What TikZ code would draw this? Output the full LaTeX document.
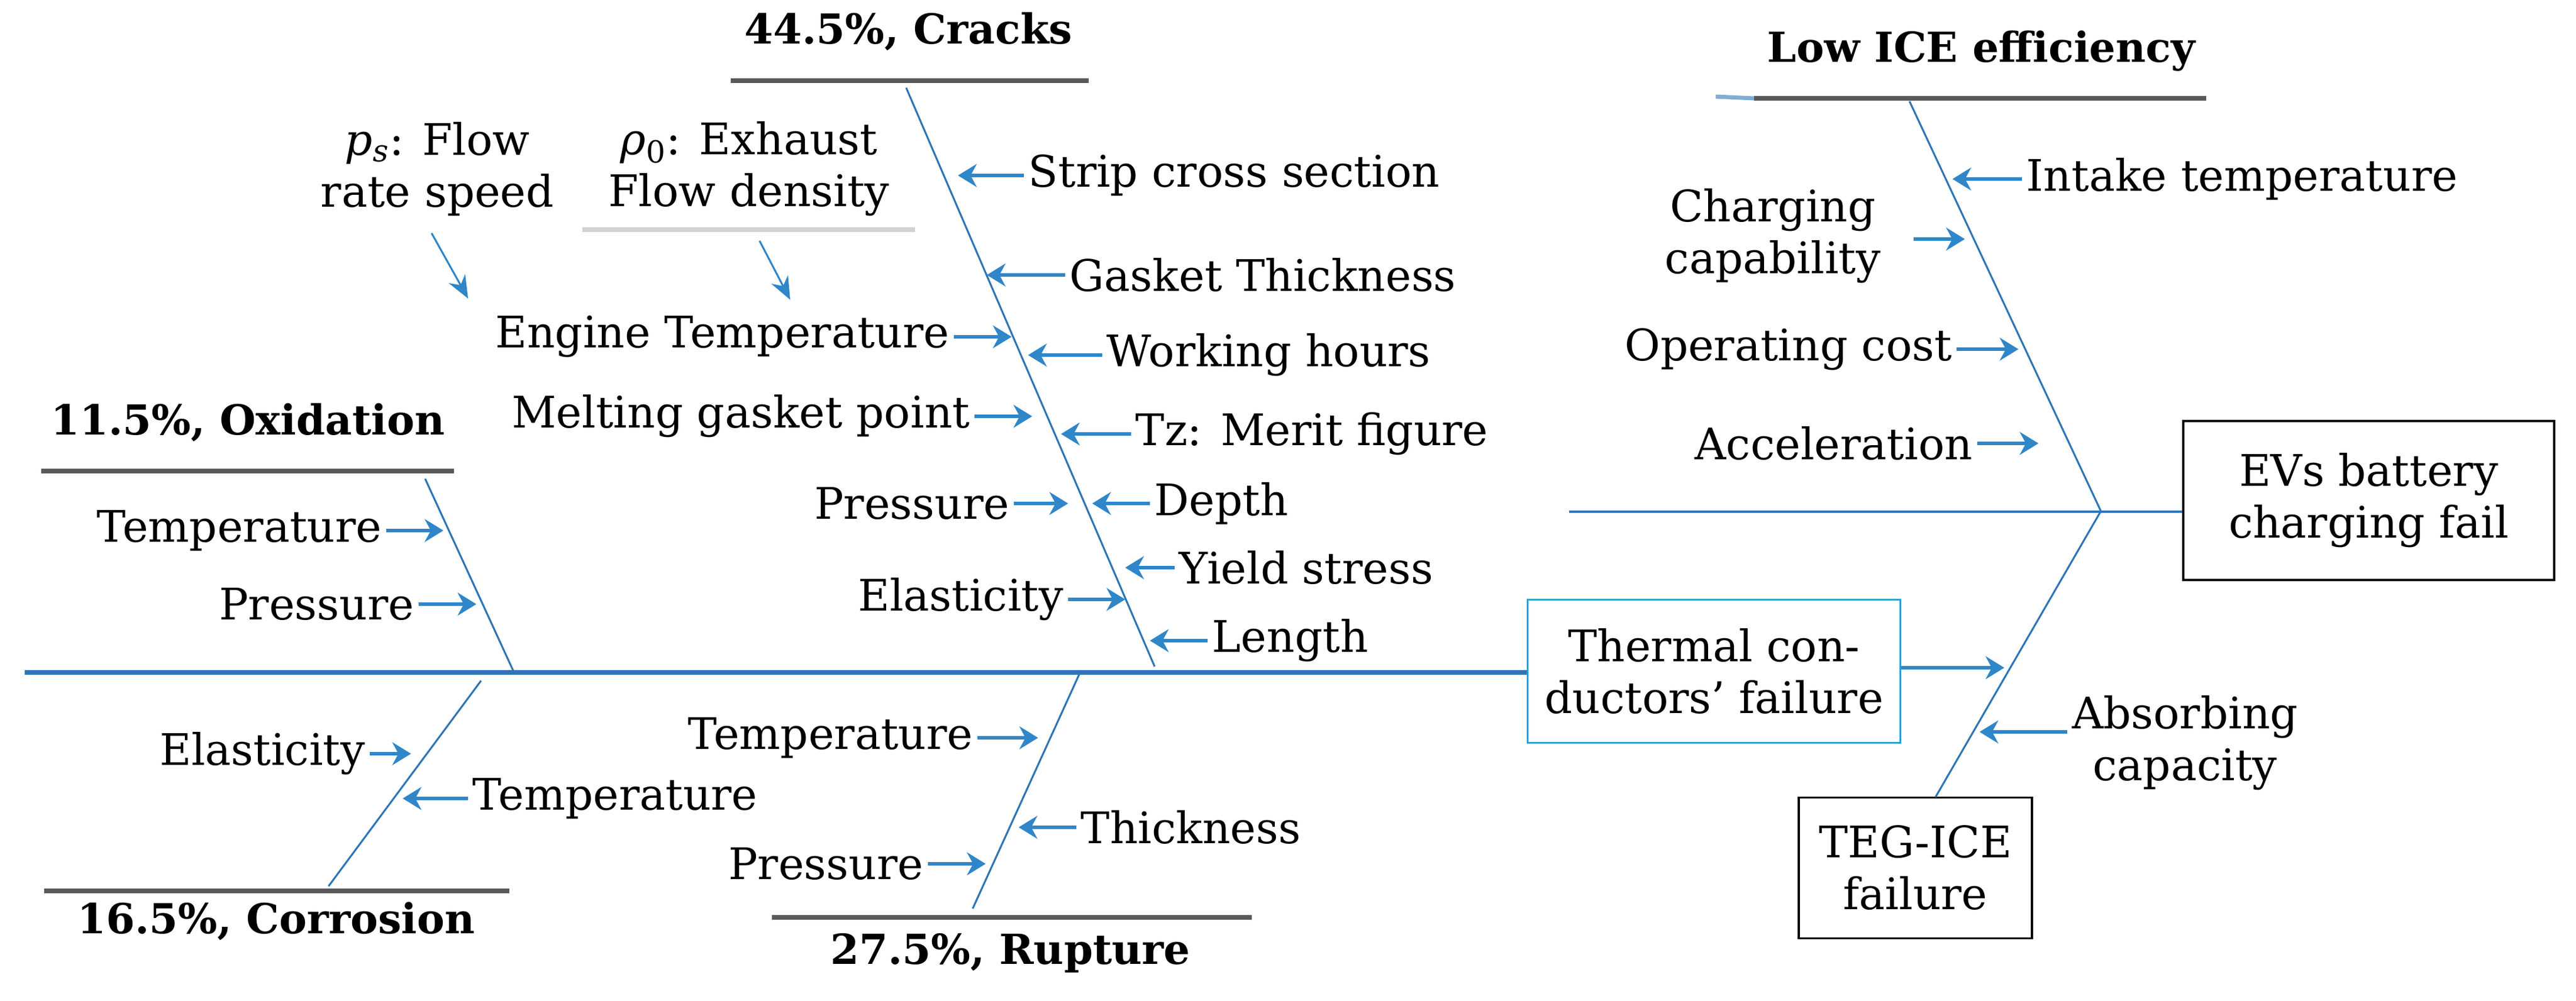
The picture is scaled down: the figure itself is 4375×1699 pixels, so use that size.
\documentclass[tikz,border=0pt]{standalone}
\usepackage{fontspec}
\setmainfont{DejaVu Serif}
\usetikzlibrary{arrows.meta}
\definecolor{spineblue}{HTML}{2E75B6}
\definecolor{arrblue}{HTML}{2F86C8}
\definecolor{barg}{HTML}{595959}
\definecolor{boxblue}{HTML}{29A0DB}
\tikzset{
  lbl/.style={font=\fontsize{21}{25}\selectfont, inner sep=2pt, align=center},
  ttl/.style={font=\fontsize{20}{24}\selectfont\bfseries, inner sep=2pt},
  arr/.style={arrblue, line width=1.6pt, -{Stealth[length=9pt,width=11pt]}},
  spine/.style={spineblue, line width=0.9pt},
  mainspine/.style={spineblue, line width=2.2pt},
  bar/.style={barg, line width=2.4pt},
  box/.style={draw, line width=1pt, font=\fontsize{21}{25}\selectfont, align=center, inner sep=4pt}
}
\begin{document}
\begin{tikzpicture}[x=0.01cm,y=-0.01cm]
\useasboundingbox (0,0) rectangle (4375,1699);
% ---------- main spine ----------
\coordinate (mL) at (42,1142);
\coordinate (hub) at (3568,868);
\node[box, draw=boxblue, minimum width=6.33cm, minimum height=2.43cm] (th) at (2911,1140) {Thermal con-\\ductors' failure};
\draw[mainspine] (mL) -- (mL -| th.west);
\coordinate (thT) at (3404,1134);
\draw[arr] (th.east |- thT) -- (thT);
% ---------- EVs box ----------
\node[box, minimum width=6.3cm, minimum height=2.7cm] (ev) at (4023,850) {EVs battery\\charging fail};
\coordinate (hL) at (2665,869);
\draw[spine, line width=1.2pt] (hL) -- (hL -| ev.west);
% ---------- Low ICE efficiency ----------
\node[ttl] (ice) at (3365,87) {Low ICE efficiency};
\coordinate (iceA) at (2979,167); \coordinate (iceB) at (3747,167);
\draw[bar] (iceA) -- (iceB);
\coordinate (iceD) at (2914,164);
\draw[spineblue!60, line width=2pt] (iceD) -- (iceA);
\coordinate (iceS) at (3243,172);
\draw[spine] (iceS) -- (hub);
\node[lbl, anchor=west] (it) at (3434,304) {Intake temperature};
\coordinate (itT) at (3316,304); \draw[arr] (it.west) -- (itT);
\node[lbl] (cc) at (3011,401) {Charging\\capability};
\coordinate (ccT) at (3337,406); \coordinate (ccF) at (3250,406); \draw[arr] (ccF) -- (ccT);
\node[lbl, anchor=east] (oc) at (3323,593) {Operating cost};
\coordinate (ocT) at (3428,593); \draw[arr] (oc.east) -- (ocT);
\node[lbl, anchor=east] (ac) at (3358,753) {Acceleration};
\coordinate (acT) at (3462,753); \draw[arr] (ac.east) -- (acT);
% ---------- TEG-ICE ----------
\node[box, minimum width=3.96cm, minimum height=2.39cm] (teg) at (3253,1474) {TEG-ICE\\failure};
\coordinate (tegT) at (3287,1354);
\draw[spine] (hub) -- (tegT);
\node[lbl] (ab) at (3711,1262) {Absorbing\\capacity};
\coordinate (abT) at (3362,1243); \draw[arr] (ab.west |- abT) -- (abT);
% ---------- Cracks ----------
\node[ttl] (cr) at (1543,54) {44.5\%, Cracks};
\coordinate (crA) at (1241,137); \coordinate (crB) at (1849,137);
\draw[bar] (crA) -- (crB);
\coordinate (crS) at (1539,149); \coordinate (crE) at (1961,1132);
\draw[spine] (crS) -- (crE);
\node[lbl] (ps) at (743,287) {\textit{p}\textsubscript{\itshape s}: Flow\\rate speed};
\node[lbl] (rho) at (1272,287) {\textit{ρ}\textsubscript{0}: Exhaust\\Flow density};
\coordinate (rA) at (989,390); \coordinate (rB) at (1554,390);
\draw[black!18, line width=2pt] (rA) -- (rB);
\coordinate (psA) at (733,396); \coordinate (psT) at (795,507);
\draw[arrblue, line width=0.9pt, -{Stealth[length=11pt,width=9pt]}] (psA) -- (psT);
\coordinate (rhA) at (1290,409); \coordinate (rhT) at (1342,509);
\draw[arrblue, line width=0.9pt, -{Stealth[length=11pt,width=9pt]}] (rhA) -- (rhT);
\node[lbl, anchor=west] (sc) at (1739,298) {Strip cross section};
\coordinate (scT) at (1627,298); \draw[arr] (sc.west) -- (scT);
\node[lbl, anchor=west] (gt) at (1809,467) {Gasket Thickness};
\coordinate (gtT) at (1676,467); \draw[arr] (gt.west) -- (gtT);
\node[lbl, anchor=east] (et) at (1620,572) {Engine Temperature};
\coordinate (etT) at (1718,572); \draw[arr] (et.east) -- (etT);
\node[lbl, anchor=west] (wh) at (1872,603) {Working hours};
\coordinate (whT) at (1746,603); \draw[arr] (wh.west) -- (whT);
\node[lbl, anchor=east] (mg) at (1655,707) {Melting gasket point};
\coordinate (mgT) at (1753,707); \draw[arr] (mg.east) -- (mgT);
\node[lbl, anchor=west] (tz) at (1921,737) {Tz: Merit figure};
\coordinate (tzT) at (1802,737); \draw[arr] (tz.west) -- (tzT);
\node[lbl, anchor=east] (pc) at (1722,855) {Pressure};
\coordinate (pcT) at (1814,855); \draw[arr] (pc.east) -- (pcT);
\node[lbl, anchor=west] (dp) at (1953,855) {Depth};
\coordinate (dpT) at (1855,855); \draw[arr] (dp.west) -- (dpT);
\node[lbl, anchor=west] (ys) at (1995,964) {Yield stress};
\coordinate (ysT) at (1911,964); \draw[arr] (ys.west) -- (ysT);
\node[lbl, anchor=east] (el) at (1814,1018) {Elasticity};
\coordinate (elT) at (1911,1018); \draw[arr] (el.east) -- (elT);
\node[lbl, anchor=west] (ln) at (2051,1088) {Length};
\coordinate (lnT) at (1953,1088); \draw[arr] (ln.west) -- (lnT);
% ---------- Oxidation ----------
\node[ttl] (ox) at (421,718) {11.5\%, Oxidation};
\coordinate (oxA) at (70,800); \coordinate (oxB) at (771,800);
\draw[bar] (oxA) -- (oxB);
\coordinate (oxS) at (722,813); \coordinate (oxE) at (873,1142);
\draw[spine] (oxS) -- (oxE);
\node[lbl, anchor=east] (ot) at (656,901) {Temperature};
\coordinate (otT) at (753,901); \draw[arr] (ot.east) -- (otT);
\node[lbl, anchor=east] (op) at (711,1026) {Pressure};
\coordinate (opT) at (809,1026); \draw[arr] (op.east) -- (opT);
% ---------- Corrosion ----------
\node[ttl] (co) at (469,1565) {16.5\%, Corrosion};
\coordinate (coA) at (75,1513); \coordinate (coB) at (865,1513);
\draw[bar] (coA) -- (coB);
\coordinate (coS) at (817,1156); \coordinate (coE) at (558,1505);
\draw[spine] (coS) -- (coE);
\node[lbl, anchor=east] (ce) at (628,1280) {Elasticity};
\coordinate (ceT) at (698,1280); \draw[arr] (ce.east) -- (ceT);
\node[lbl, anchor=west] (ct) at (795,1356) {Temperature};
\coordinate (ctT) at (684,1356); \draw[arr] (ct.west) -- (ctT);
% ---------- Rupture ----------
\node[ttl] (ru) at (1716,1619) {27.5\%, Rupture};
\coordinate (ruA) at (1311,1558); \coordinate (ruB) at (2126,1558);
\draw[bar] (ruA) -- (ruB);
\coordinate (ruS) at (1833,1145); \coordinate (ruE) at (1652,1543);
\draw[spine] (ruS) -- (ruE);
\node[lbl, anchor=east] (rt) at (1660,1253) {Temperature};
\coordinate (rtT) at (1763,1253); \draw[arr] (rt.east) -- (rtT);
\node[lbl, anchor=west] (rk) at (1828,1405) {Thickness};
\coordinate (rkT) at (1730,1405); \draw[arr] (rk.west) -- (rkT);
\node[lbl, anchor=east] (rp) at (1576,1467) {Pressure};
\coordinate (rpT) at (1674,1467); \draw[arr] (rp.east) -- (rpT);
\end{tikzpicture}
\end{document}
